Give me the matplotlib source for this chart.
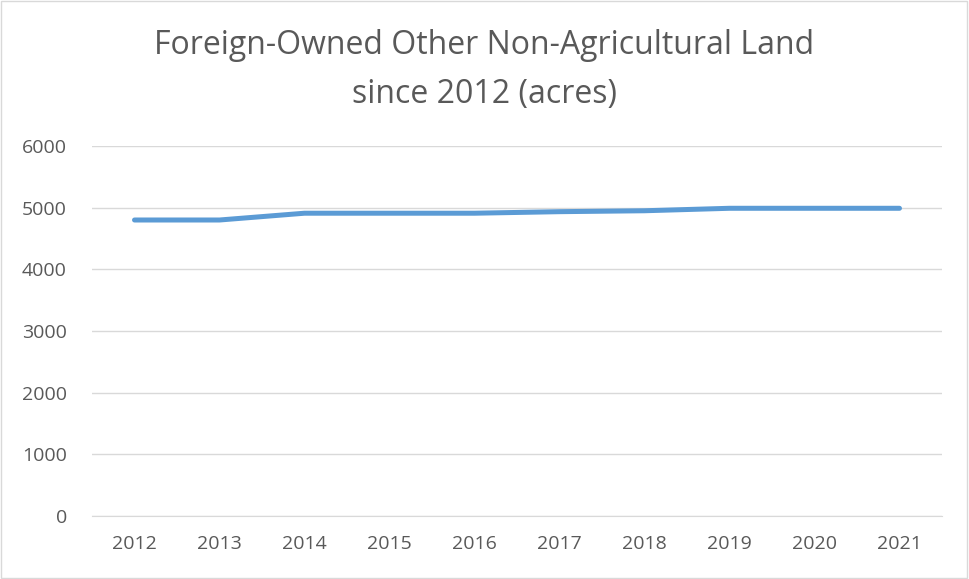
import matplotlib.pyplot as plt
from matplotlib.patches import Rectangle

# Data
years = ["2012", "2013", "2014", "2015", "2016", "2017", "2018", "2019", "2020", "2021"]
acres = [4800, 4800, 4910, 4910, 4910, 4935, 4950, 4990, 4990, 4990]
y_ticks = [0, 1000, 2000, 3000, 4000, 5000, 6000]

plt.rcParams['font.family'] = ['Open Sans', 'DejaVu Sans']

fig = plt.figure(figsize=(9.69, 5.79), dpi=100)
ax = fig.add_axes([92 / 969, 1 - 516 / 579, 850 / 969, 370 / 579])

x = list(range(len(years)))
ax.plot(x, acres, color='#5B9BD5', linewidth=3.6, solid_capstyle='round', zorder=3)

ax.set_xlim(-0.5, len(years) - 0.5)
ax.set_ylim(0, 6000)
ax.set_xticks(x)
ax.set_xticklabels(years)
ax.set_yticks(y_ticks)
ax.grid(axis='y', color='#D9D9D9', linewidth=1)
ax.set_axisbelow(True)
for s in ['top', 'right', 'left']:
    ax.spines[s].set_visible(False)
ax.spines['bottom'].set_color('#D9D9D9')
ax.tick_params(axis='both', length=0, labelsize=14, colors='#595959')
ax.tick_params(axis='x', pad=14)
ax.tick_params(axis='y', pad=18)

fig.text(0.5, 1 - 46 / 579, "Foreign-Owned Other Non-Agricultural Land", ha='center', va='center',
         fontsize=23, color='#595959')
fig.text(0.5, 1 - 94 / 579, "since 2012 (acres)", ha='center', va='center',
         fontsize=23, color='#595959')

# outer chart border
fig.patches.append(Rectangle((0.001, 0.002), 0.997, 0.996, transform=fig.transFigure,
                             fill=False, edgecolor='#D9D9D9', linewidth=1))

fig.savefig("out.png", dpi=100)
